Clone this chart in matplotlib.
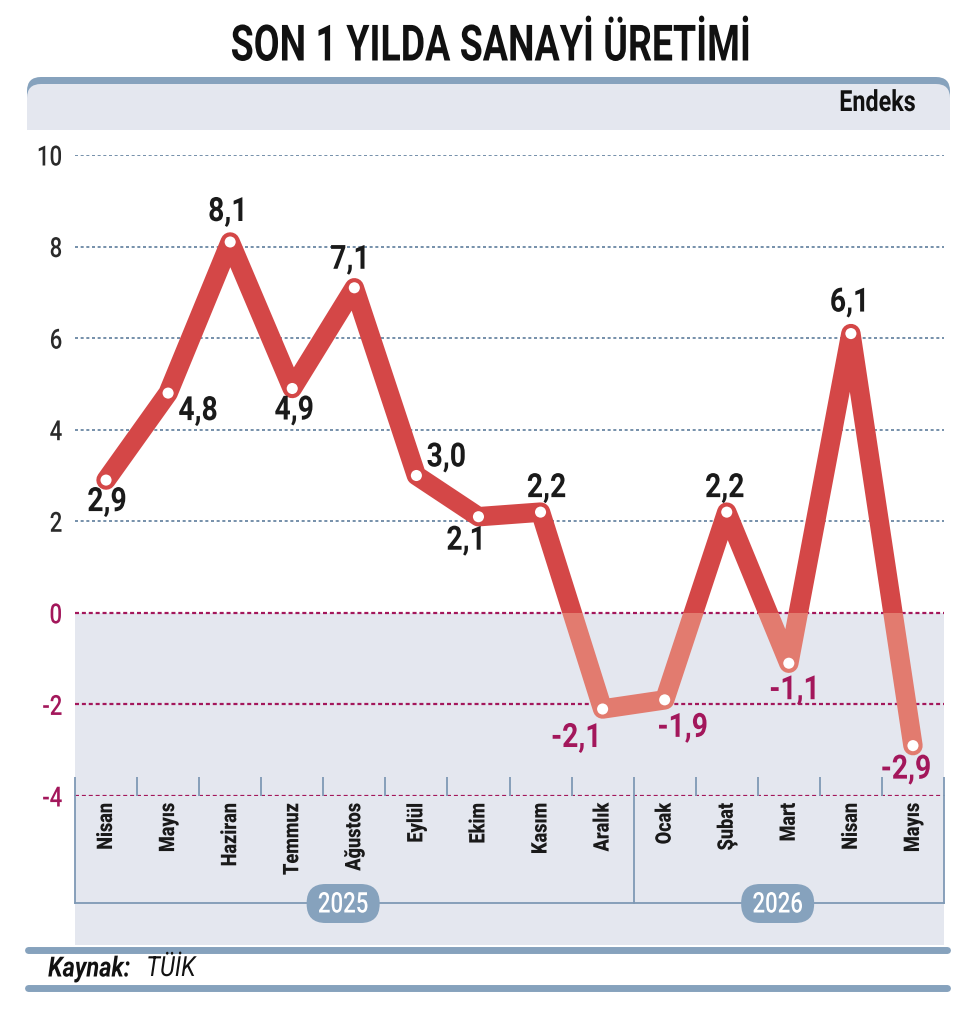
import matplotlib
matplotlib.use("Agg")
import matplotlib.pyplot as plt
from matplotlib.patches import FancyBboxPatch, Rectangle
from matplotlib.patheffects import AbstractPathEffect
from matplotlib.transforms import Affine2D
import numpy as np

months = ["Nisan", "Mayıs", "Haziran", "Temmuz", "Ağustos", "Eylül", "Ekim",
          "Kasım", "Aralık", "Ocak", "Şubat", "Mart", "Nisan", "Mayıs"]
values = [2.9, 4.8, 8.1, 4.9, 7.1, 3.0, 2.1, 2.2, -2.1, -1.9, 2.2, -1.1, 6.1, -2.9]
value_labels = ["2,9", "4,8", "8,1", "4,9", "7,1", "3,0", "2,1",
                "2,2", "-2,1", "-1,9", "2,2", "-1,1", "6,1", "-2,9"]
years = ["2025", "2026"]
year_spans = [(0, 8), (9, 13)]
y_ticks = [-4, -2, 0, 2, 4, 6, 8, 10]

# label offsets from the point, in pixels
label_offsets = [(1, -22), (30, -18), (-2, 30), (2, -22), (-4, 28), (30, 18), (-12, -24),
                 (6, 24), (-26, -29), (18, -28), (-2, 24), (6, -27), (-1, 31), (-7, -24)]

RED = "#d44747"
SALMON = "#e27b6f"
MAG = "#a3175b"
STEEL = "#86a2bd"
PANEL = "#e4e7ef"
FONT = "Roboto"


class Narrow(AbstractPathEffect):
    """squeeze glyphs horizontally (no condensed font installed)"""

    def __init__(self, sx=0.8, anchor="center"):
        super().__init__()
        self.sx = sx
        self.anchor = anchor

    def draw_path(self, renderer, gc, tpath, affine, rgbFace=None):
        ext = tpath.get_extents()
        cx = {"left": ext.x0, "right": ext.x1}.get(self.anchor, (ext.x0 + ext.x1) / 2)
        pre = Affine2D().translate(-cx, 0).scale(self.sx, 1).translate(cx, 0)
        renderer.draw_path(gc, tpath, pre + affine, rgbFace)


W, H = 977, 1014
fig = plt.figure(figsize=(W / 100, H / 100), dpi=100)

# background layer in pixel coords
bg = fig.add_axes([0, 0, 1, 1], zorder=0)
bg.set_xlim(0, W)
bg.set_ylim(H, 0)
bg.axis("off")

bg.add_patch(FancyBboxPatch((27, 77), 923, 80, boxstyle="round,pad=0,rounding_size=14",
                            fc=STEEL, ec="none"))
bg.add_patch(FancyBboxPatch((27, 84), 923, 75, boxstyle="round,pad=0,rounding_size=14",
                            fc=PANEL, ec="none"))
bg.add_patch(Rectangle((0, 130), W, 40, fc="white", ec="none"))
bg.add_patch(Rectangle((75, 790), 869, 155, fc=PANEL, ec="none"))
bg.plot([28, 947], [950, 950], color=STEEL, lw=5, solid_capstyle="round")
bg.plot([28, 947], [988, 988], color=STEEL, lw=5, solid_capstyle="round")

# main chart
top, bottom, left, right = 155, 796, 75, 944
ax = fig.add_axes([left / W, (H - bottom) / H, (right - left) / W, (bottom - top) / H], zorder=1)
ax.patch.set_alpha(0)
ax.set_xlim(-0.5, 13.5)
ax.set_ylim(-4, 10)
for s in ax.spines.values():
    s.set_visible(False)

ax.axhspan(-4, 0, color=PANEL, zorder=0, lw=0)
for v in y_ticks:
    if v > 0:
        ax.axhline(v, color="#5d7d9c", ls=(0, (1.8, 1.6)), lw=1.2, zorder=1)
    else:
        ax.axhline(v, color=MAG, ls=(0, (1.8, 1.3)), lw=1.6, zorder=1)

x = np.arange(len(values))
upper, = ax.plot(x, values, color=RED, lw=14, solid_joinstyle="round",
                 solid_capstyle="round", zorder=3)
upper.set_clip_path(Rectangle((-1, 0), 16, 20, transform=ax.transData))
lower, = ax.plot(x, values, color=SALMON, lw=14, solid_joinstyle="round",
                 solid_capstyle="round", zorder=3)
lower.set_clip_path(Rectangle((-1, -10), 16, 10, transform=ax.transData))

edge = [RED if v > 0 else SALMON for v in values]
ax.scatter(x, values, s=100, facecolor="white", edgecolors=edge, linewidths=2, zorder=4)

for i, (v, lbl, off) in enumerate(zip(values, value_labels, label_offsets)):
    ax.annotate(lbl, (i, v), xytext=off, textcoords="offset pixels", ha="center", va="center",
                fontsize=24, fontweight="bold", family=FONT,
                color="#1a1a1a" if v > 0 else MAG, zorder=5,
                path_effects=[Narrow(0.85)])

# y axis
ax.set_yticks(y_ticks)
ax.set_yticklabels([str(v) for v in y_ticks], family=FONT, fontsize=20, fontweight="medium")
for t, v in zip(ax.get_yticklabels(), y_ticks):
    t.set_color("#2a2a2a" if v > 0 else MAG)
    t.set_path_effects([Narrow(0.8, "right")])
ax.tick_params(axis="y", length=0, pad=9)

# x axis
ax.set_xticks(x)
ax.set_xticklabels(months, rotation=90, fontsize=15.5, fontweight="black", family=FONT,
                   color="#1a1a1a")
for t in ax.get_xticklabels():
    t.set_path_effects([Narrow(0.84, "right")])
ax.set_xticks(np.arange(-0.5, 14, 1), minor=True)
ax.tick_params(axis="x", which="major", length=0, pad=5)
ax.tick_params(axis="x", which="minor", direction="in", length=14, width=1.3, color="#7f99b5")


def fy(p):
    return (bottom - p) / (bottom - top)


def px(xv):
    return left + (xv + 0.5) * (right - left) / 14


xt = ax.get_xaxis_transform()
for xv in [-0.5, 8.5, 13.5]:
    ax.plot([xv, xv], [0, fy(903)], transform=xt, color="#7f99b5", lw=1.3, clip_on=False)
ax.plot([-0.5, 13.5], [fy(903), fy(903)], transform=xt, color="#7f99b5", lw=1.3, clip_on=False)

for yr, (a, b) in zip(years, year_spans):
    cx = px((a + b) / 2 - 0.18)
    pill = FancyBboxPatch((cx - 36.5, 884), 73, 39, boxstyle="round,pad=0,rounding_size=19",
                          fc=STEEL, ec="none", zorder=6, transform=bg.transData)
    fig.add_artist(pill)
    t = fig.text(cx / W, 1 - 905 / H, yr, ha="center", va="center", color="white",
                 fontsize=20.5, family=FONT, fontweight="medium", zorder=7)
    t.set_path_effects([Narrow(0.78)])

# texts
t = fig.text(491 / W, 1 - 47 / H, "SON 1 YILDA SANAYİ ÜRETİMİ", ha="center", va="center",
             fontsize=36, fontweight="bold", family=FONT, color="#111111")
t.set_path_effects([Narrow(0.75)])
t = fig.text(916 / W, 1 - 103 / H, "Endeks", ha="right", va="center", fontsize=21,
             fontweight="bold", family=FONT, color="#111111")
t.set_path_effects([Narrow(0.8, "right")])
t = fig.text(48 / W, 1 - 969 / H, "Kaynak:", ha="left", va="center", fontsize=20,
             fontweight="bold", style="italic", family=FONT, color="#111111")
t.set_path_effects([Narrow(0.85, "left")])
t = fig.text(146 / W, 1 - 969 / H, "TÜİK", ha="left", va="center", fontsize=20,
             style="italic", family=FONT, color="#111111")
t.set_path_effects([Narrow(0.85, "left")])

fig.savefig("out.png", dpi=100)
